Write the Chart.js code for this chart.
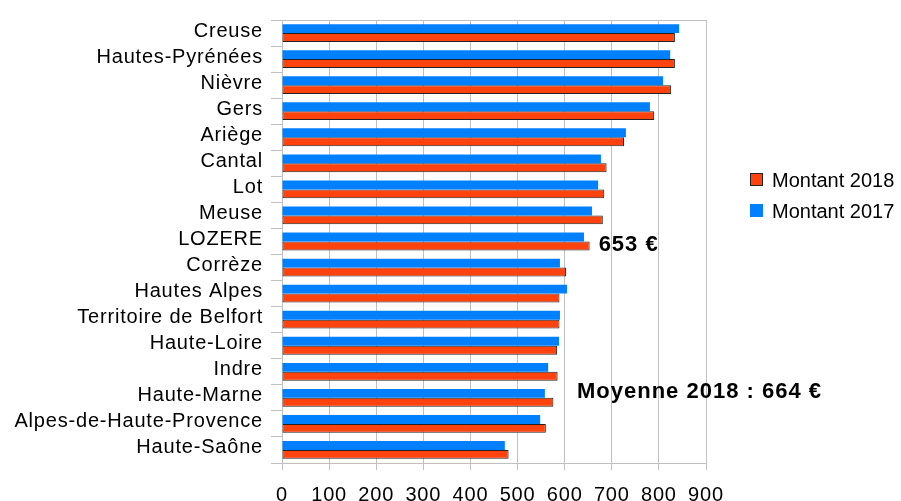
<!DOCTYPE html>
<html>
<head>
<meta charset="utf-8">
<script src="https://cdn.jsdelivr.net/npm/chart.js@4/dist/chart.umd.min.js"></script>
<style>
    html, body { margin: 0; padding: 0; background: #fff; }
    #graphique { display: block; }
</style>
</head>
<body>
<canvas id="graphique" width="901" height="501"></canvas>
<script>
// Départements, du plus haut au plus bas
const departements = ['Creuse', 'Hautes-Pyrénées', 'Nièvre', 'Gers', 'Ariège', 'Cantal', 'Lot', 'Meuse',
    'LOZERE', 'Corrèze', 'Hautes Alpes', 'Territoire de Belfort', 'Haute-Loire', 'Indre', 'Haute-Marne',
    'Alpes-de-Haute-Provence', 'Haute-Saône'];

const montant2018 = [834, 834, 826, 790, 726, 689, 684, 681, 653, 603, 589, 589, 584, 585, 576, 560, 481];
const montant2017 = [843, 824, 809, 781, 730, 677, 671, 658, 641, 590, 605, 590, 588, 565, 558, 548, 473];

const graduations = [0, 100, 200, 300, 400, 500, 600, 700, 800, 900];
const nomsSeries = ['Montant 2018', 'Montant 2017'];

const texteLozere = '653 €';
const texteMoyenne = 'Moyenne 2018 : 664 €';

const ROUGE = '#ff420e';
const BLEU = '#0080ff';
const GRIS = '#c0c0c0';
const POLICE = "'Liberation Sans', Arial, sans-serif";

// léger espacement des lettres comme dans l'export d'origine
function espacer(ctx) {
    ctx.letterSpacing = '0.8px';
}

const decor = {
    id: 'decor',
    beforeUpdate(chart) { espacer(chart.ctx); },
    beforeDraw(chart) { espacer(chart.ctx); },
    afterDraw(chart) {
        const ctx = chart.ctx;
        const area = chart.chartArea;
        ctx.save();

        // bord haut du cadre
        ctx.strokeStyle = GRIS;
        ctx.lineWidth = 1;
        ctx.beginPath();
        ctx.moveTo(area.left, area.top + 0.5);
        ctx.lineTo(area.right, area.top + 0.5);
        ctx.stroke();

        // légende
        ctx.letterSpacing = '0px';
        ctx.font = '20px ' + POLICE;
        ctx.textBaseline = 'alphabetic';
        ctx.textAlign = 'left';
        const couleurs = [ROUGE, BLEU];
        const baselines = [187, 218];
        nomsSeries.forEach((nom, i) => {
            const y = baselines[i];
            ctx.fillStyle = couleurs[i];
            ctx.fillRect(750, y - 14, 13, 13);
            if (i === 0) {
                ctx.strokeStyle = '#222';
                ctx.strokeRect(750.5, y - 13.5, 12, 12);
            }
            ctx.fillStyle = '#000';
            ctx.fillText(nom, 772, y);
        });

        // annotations
        ctx.letterSpacing = '1px';
        ctx.font = 'bold 22px ' + POLICE;
        const iLozere = departements.indexOf('LOZERE');
        const barre = chart.getDatasetMeta(1).data[iLozere];
        const x = chart.scales.x.getPixelForValue(montant2018[iLozere]) + 9;
        ctx.textBaseline = 'middle';
        ctx.fillText(texteLozere, x, barre.y - 1);

        ctx.textBaseline = 'alphabetic';
        ctx.fillText(texteMoyenne, 577, 398);
        ctx.restore();
    }
};

new Chart(document.getElementById('graphique'), {
    type: 'bar',
    data: {
        labels: departements,
        datasets: [{
            label: nomsSeries[1],
            data: montant2017,
            backgroundColor: BLEU,
            borderWidth: 0
        }, {
            label: nomsSeries[0],
            data: montant2018,
            backgroundColor: ROUGE,
            borderColor: '#222',
            borderWidth: 1,
            borderSkipped: false
        }]
    },
    options: {
        indexAxis: 'y',
        responsive: false,
        animation: false,
        categoryPercentage: 0.683,
        barPercentage: 1,
        layout: { padding: { top: 15, right: 195, left: 0, bottom: 0 } },
        plugins: {
            legend: { display: false },
            tooltip: { enabled: false }
        },
        scales: {
            x: {
                type: 'linear',
                min: 0,
                max: 900,
                afterBuildTicks(scale) {
                    scale.ticks = graduations.map(v => ({ value: v }));
                },
                ticks: {
                    color: '#000',
                    font: { family: POLICE, size: 20 },
                    padding: 13,
                    maxRotation: 0,
                    autoSkip: false
                },
                grid: { color: GRIS, tickLength: 7 },
                border: { color: GRIS },
                afterFit(scale) { scale.height = 38; }
            },
            y: {
                ticks: {
                    color: '#000',
                    font: { family: POLICE, size: 20 },
                    padding: 8,
                    labelOffset: -2,
                    autoSkip: false
                },
                grid: { offset: true, drawOnChartArea: false, tickLength: 11, color: GRIS },
                border: { color: GRIS },
                afterFit(scale) { scale.width = 282; }
            }
        }
    },
    plugins: [decor]
});
</script>
</body>
</html>
